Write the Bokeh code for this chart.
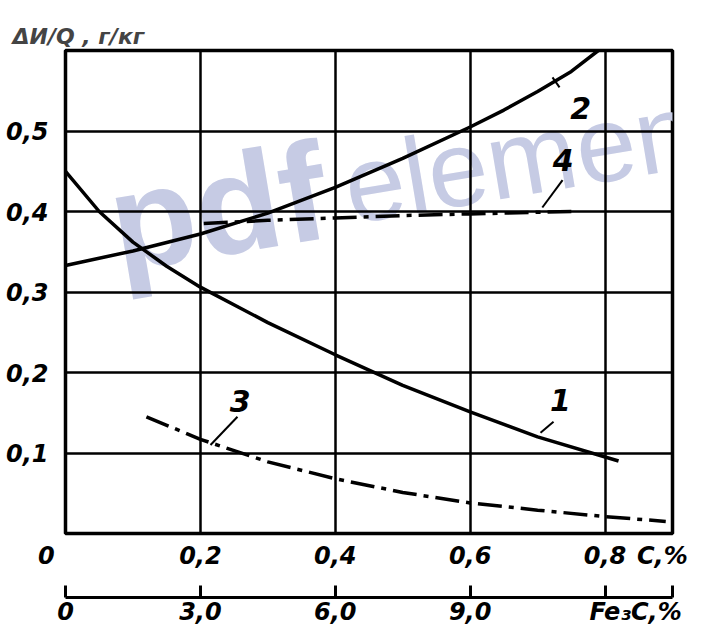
from bokeh.plotting import figure
from bokeh.models import Range1d, LinearAxis, FixedTicker, Label
from bokeh.core.properties import value
from bokeh.embed import file_html
from bokeh.resources import INLINE

# ---------------- data ----------------
c1_x = [0.0, 0.05, 0.10, 0.15, 0.20, 0.30, 0.40, 0.50, 0.60, 0.70, 0.82]
c1_y = [0.450, 0.400, 0.362, 0.332, 0.306, 0.262, 0.222, 0.184, 0.151, 0.120, 0.090]

c2_x = [0.0, 0.10, 0.20, 0.30, 0.40, 0.50, 0.60, 0.65, 0.70, 0.75, 0.79]
c2_y = [0.333, 0.351, 0.372, 0.398, 0.430, 0.466, 0.505, 0.526, 0.549, 0.574, 0.600]

c3_x = [0.12, 0.20, 0.30, 0.40, 0.50, 0.60, 0.70, 0.80, 0.89]
c3_y = [0.145, 0.117, 0.089, 0.068, 0.051, 0.038, 0.029, 0.021, 0.015]

c4_x = [0.205, 0.30, 0.40, 0.50, 0.60, 0.70, 0.75]
c4_y = [0.385, 0.389, 0.392, 0.395, 0.397, 0.399, 0.400]

curve_names = ["1", "2", "3", "4"]
name_x = [0.734, 0.764, 0.259, 0.738]
name_y = [0.166, 0.529, 0.164, 0.464]
lead_x0 = [0.7236, 0.7221, 0.255, 0.737]
lead_y0 = [0.1389, 0.5666, 0.145, 0.439]
lead_x1 = [0.7043, 0.7325, 0.215, 0.707]
lead_y1 = [0.1252, 0.5542, 0.110, 0.405]

c_ticks = [0.0, 0.2, 0.4, 0.6, 0.8, 0.885]
c_labels = ["0\u2007\u2007\u2009", "0,2", "0,4", "0,6", "0,8", "C,%"]
grid_x = [0.2, 0.4, 0.6, 0.8]
y_ticks = [0.1, 0.2, 0.3, 0.4, 0.5]
y_labels = ["0,1", "0,2", "0,3", "0,4", "0,5"]
fe_ticks = [0, 3, 6, 9, 12, 13.5]
fe_label_pos = [0, 3, 6, 9, 12.68]
fe_labels = ["0", "3,0", "6,0", "9,0", "Fe₃C,%"]
y_title = "ΔИ/Q , г/кг"

FONT = "DejaVu Sans"

p = figure(width=710, height=628, x_range=Range1d(0, 0.9), y_range=Range1d(0, 0.6),
           output_backend="svg", toolbar_location=None,
           min_border_left=65, min_border_right=38, min_border_top=50, min_border_bottom=94)
p.background_fill_color = "white"
p.border_fill_color = "white"
p.outline_line_color = "black"
p.outline_line_width = 3.5

# title used as the y-axis caption
p.title.text = y_title
p.title.align = "left"
p.title.offset = -53
p.title.standoff = 3
p.title.text_font = FONT
p.title.text_font_style = "bold italic"
p.title.text_font_size = "22px"

# grid
p.xgrid.ticker = FixedTicker(ticks=grid_x)
p.ygrid.ticker = FixedTicker(ticks=y_ticks)
for g in (p.xgrid, p.ygrid):
    g.grid_line_color = "black"
    g.grid_line_width = 2.5

# main axes
p.xaxis.ticker = FixedTicker(ticks=c_ticks)
p.xaxis.major_label_overrides = {t: s for t, s in zip(c_ticks, c_labels)}
p.yaxis.ticker = FixedTicker(ticks=y_ticks)
p.yaxis.major_label_overrides = {t: s for t, s in zip(y_ticks, y_labels)}
for ax in (p.xaxis, p.yaxis):
    ax.axis_line_color = None
    ax.major_tick_line_color = None
    ax.minor_tick_line_color = None
    ax.major_label_text_font = FONT
    ax.major_label_text_font_style = "bold italic"
    ax.major_label_text_font_size = "24px"
    ax.major_label_text_color = "black"
p.yaxis.major_label_standoff = 11
p.xaxis.major_label_standoff = 2
p.xaxis.axis_label = " "
p.xaxis.axis_label_standoff = 0
p.xaxis.axis_label_text_font_size = "20px"

# second x axis (Fe3C): line + ticks
p.extra_x_ranges = {"fe": Range1d(0, 13.5)}
ax2 = LinearAxis(x_range_name="fe", ticker=FixedTicker(ticks=fe_ticks),
                 major_label_overrides={t: "" for t in fe_ticks})
ax2.axis_line_width = 3
ax2.axis_line_color = "black"
ax2.major_tick_in = 12
ax2.major_tick_out = 0
ax2.major_tick_line_width = 3
ax2.major_tick_line_color = "black"
ax2.minor_tick_line_color = None
ax2.major_label_standoff = 0
ax2.major_label_text_font_size = "1px"
p.add_layout(ax2, "below")

# second x axis labels
ax3 = LinearAxis(x_range_name="fe", ticker=FixedTicker(ticks=fe_label_pos),
                 major_label_overrides={t: s for t, s in zip(fe_label_pos, fe_labels)})
ax3.axis_line_color = None
ax3.major_tick_line_color = None
ax3.minor_tick_line_color = None
ax3.major_label_standoff = -6
ax3.major_label_text_font = FONT
ax3.major_label_text_font_style = "bold italic"
ax3.major_label_text_font_size = "24px"
ax3.major_label_text_color = "black"
p.add_layout(ax3, "below")

# watermark (scan artefact)
wm = "#c6cbe4"
p.add_layout(Label(x=0.067, y=0.3835, text="pdf", text_font="Liberation Sans", text_font_style="bold",
                   text_font_size="140px", text_color=wm, angle=9.5, angle_units="deg",
                   text_align="left", text_baseline="alphabetic", level="image"))
p.add_layout(Label(x=0.414, y=0.43, text="element", text_font="Liberation Sans",
                   text_font_size="108px", text_color=wm, angle=9.5, angle_units="deg",
                   text_align="left", text_baseline="alphabetic", level="image"))

# curves
p.line(c1_x, c1_y, line_color="black", line_width=3.5)
p.line(c2_x, c2_y, line_color="black", line_width=3.5)
p.line(c3_x, c3_y, line_color="black", line_width=3.5, line_dash="24 7 5 7")
p.line(c4_x, c4_y, line_color="black", line_width=3.5, line_dash="24 7 5 7")

# curve labels and leaders
p.segment(lead_x0, lead_y0, lead_x1, lead_y1, line_color="black", line_width=2)
p.text(name_x, name_y, text=curve_names, text_font=value(FONT), text_font_style="bold italic",
       text_font_size="30px", text_align="center", text_baseline="middle", text_color="black")

open("out.html", "w").write(file_html(p, INLINE))
